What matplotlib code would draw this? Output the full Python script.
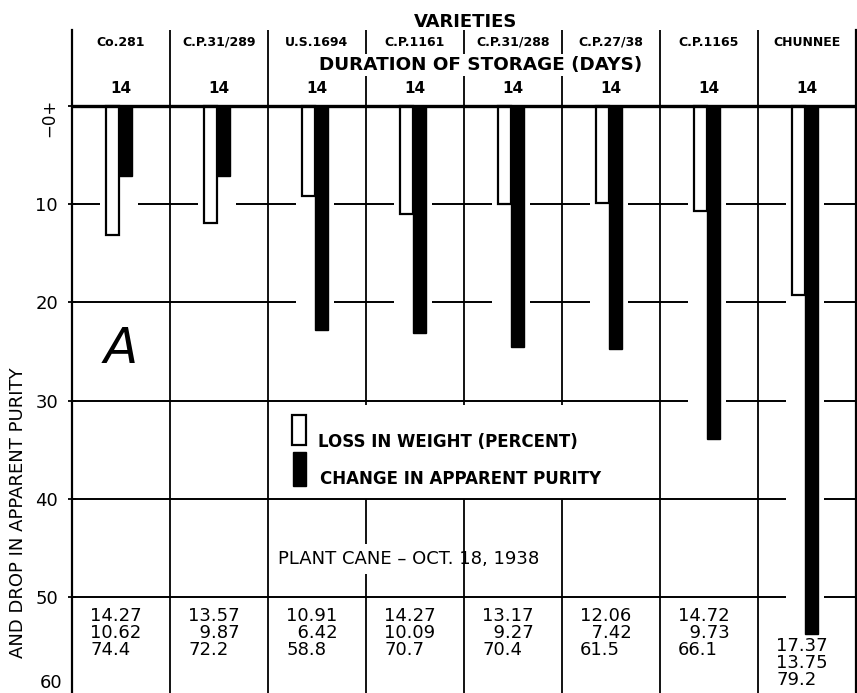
import numpy as np
import matplotlib
matplotlib.use("Agg")
import matplotlib.pyplot as plt
from matplotlib.patches import Rectangle

# ---------------- data ----------------
varieties = ["Co.281", "C.P.31/289", "U.S.1694", "C.P.1161",
             "C.P.31/288", "C.P.27/38", "C.P.1165", "CHUNNEE"]
durations = [14, 14, 14, 14, 14, 14, 14, 14]
loss_in_weight = [13.2, 11.9, 9.2, 11.0, 10.0, 9.9, 10.7, 19.3]
purity_change = [7.2, 7.2, 22.8, 23.1, 24.5, 24.7, 33.9, 53.7]
table_row1 = ["14.27", "13.57", "10.91", "14.27", "13.17", "12.06", "14.72", "17.37"]
table_row2 = ["10.62", "9.87", "6.42", "10.09", "9.27", "7.42", "9.73", "13.75"]
table_row3 = ["74.4", "72.2", "58.8", "70.7", "70.4", "61.5", "66.1", "79.2"]
y_ticks = [0, 10, 20, 30, 40, 50, 60]
y_tick_labels = ["\u22120+", "10", "20", "30", "40", "50", "60"]
legend_labels = ["LOSS IN WEIGHT (PERCENT)", "CHANGE IN APPARENT PURITY"]

# ---------------- figure ----------------
W, H = 857, 693
fig = plt.figure(figsize=(W / 100, H / 100), dpi=100)
fig.patch.set_facecolor("white")

ax_left, ax_right = 72, 856
ax_top, ax_bot = 30, 695.5
zero_px, px_per_unit = 105.7, 9.83
ax = fig.add_axes([ax_left / W, 1 - ax_bot / H,
                   (ax_right - ax_left) / W, (ax_bot - ax_top) / H])
y_top = (ax_top - zero_px) / px_per_unit
y_bot = (ax_bot - zero_px) / px_per_unit
n = len(varieties)
ax.set_xlim(0, n)
ax.set_ylim(y_bot, y_top)

xc = np.arange(n) + 0.5
lw_line = 1.4

# horizontal grid and heavy zero line
ax.hlines(y_ticks[1:-1], 0, n, color="black", lw=lw_line, zorder=1)
ax.hlines(0, 0, n, color="black", lw=2.4, zorder=4)

# column dividers (gaps where legend / caption sit)
for b in range(1, n):
    if b == 3:
        segs = [(y_top, 30.4), (40, 44.6), (47.6, y_bot)]
    elif b in (4, 5):
        segs = [(y_top, 30.4), (40, y_bot)]
    else:
        segs = [(y_top, y_bot)]
    for s0, s1 in segs:
        ax.vlines(b, s0, s1, color="black", lw=1.3, zorder=1)

# white pads so grid lines break around bars
pad_depth = np.maximum(loss_in_weight, purity_change) + 0.3
ax.bar(xc - 0.21, pad_depth, width=0.385, align="edge", color="white",
       lw=0, zorder=2)

# bars
ax.bar(xc - 0.15, loss_in_weight, width=0.13, align="edge", color="white",
       edgecolor="black", lw=1.6, zorder=3)
ax.bar(xc - 0.025, purity_change, width=0.14, align="edge", color="black",
       edgecolor="black", lw=1.0, zorder=3)

# spines / ticks
ax.spines["top"].set_visible(False)
for sp in ("left", "right", "bottom"):
    ax.spines[sp].set_linewidth(1.6)
    ax.spines[sp].set_zorder(5)
ax.set_xticks([])
ax.set_yticks(y_ticks[:-1])
ax.set_yticklabels(y_tick_labels[:-1])
ax.tick_params(axis="y", length=6, width=1.3, direction="inout", pad=7,
               labelsize=13)
lbls = ax.get_yticklabels()
lbls[0].set_rotation(90)
lbls[0].set_fontsize(12)
# last tick label sits at the very bottom edge of the page
fig.text(62 / W, 1 / H, y_tick_labels[-1], ha="right", va="bottom",
         fontsize=13)

# header texts
ax.text(4.02, -8.5, "VARIETIES", ha="center", va="center", fontsize=13,
        fontweight="bold", clip_on=False)
for i in range(n):
    ax.text(xc[i], -6.45, varieties[i], ha="center", va="center", fontsize=9,
            fontweight="bold", clip_on=False)
    ax.text(xc[i], -1.7, str(durations[i]), ha="center", va="center",
            fontsize=11, fontweight="bold", zorder=6)
ax.text(4.17, -4.1, "DURATION OF STORAGE (DAYS)", ha="center", va="center",
        fontsize=13.2, fontweight="bold", zorder=6,
        bbox=dict(facecolor="white", edgecolor="none", pad=1.5))

# panel letter
ax.text(0.5, 24.7, "A", ha="center", va="center", fontsize=36,
        style="oblique", fontweight="light", zorder=6)

# legend
ax.add_patch(Rectangle((2.245, 31.5), 0.14, 3.0, facecolor="white",
                       edgecolor="black", lw=1.6, zorder=6))
ax.add_patch(Rectangle((2.255, 35.2), 0.13, 3.5, facecolor="black",
                       edgecolor="black", lw=1.0, zorder=6))
ax.text(2.51, 34.2, legend_labels[0], ha="left", va="center", fontsize=12,
        fontweight="bold", zorder=6)
ax.text(2.53, 38.0, legend_labels[1], ha="left", va="center", fontsize=12,
        fontweight="bold", zorder=6)

# caption
ax.text(2.10, 46.1, "PLANT CANE \u2013 OCT. 18, 1938", ha="left",
        va="center", fontsize=13, zorder=6)

# bottom table numbers (one text block per column)
block_top = 51.0
for i in range(n):
    shift = 3.05 if purity_change[i] > block_top else 0.0
    r2 = "\u2007" * (len(table_row1[i]) - len(table_row2[i])) + table_row2[i]
    block = "\n".join([table_row1[i], r2, table_row3[i]])
    ax.text(xc[i] - 0.315, block_top + shift, block, ha="left", va="top",
            multialignment="left", linespacing=0.92, fontsize=13, zorder=6)

# y label (partially visible in source)
fig.text(18.5 / W, 1 - 367 / H, "AND DROP IN APPARENT PURITY", rotation=90,
         ha="center", va="top", fontsize=13)

fig.savefig("out.png", dpi=100, facecolor="white")
